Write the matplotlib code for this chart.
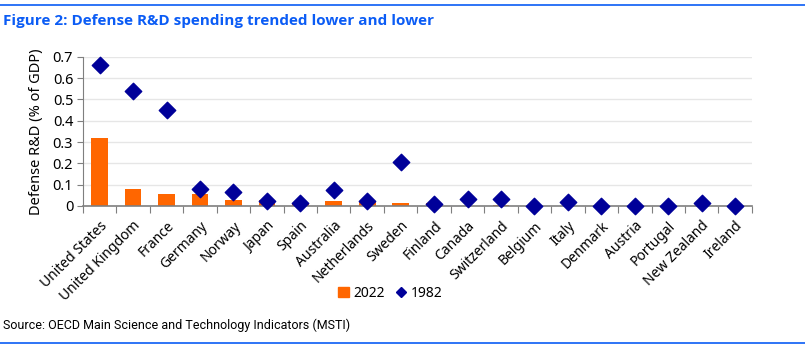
import matplotlib.pyplot as plt
from matplotlib.lines import Line2D
from matplotlib.patches import Patch
import numpy as np

countries = ["United States", "United Kingdom", "France", "Germany", "Norway",
             "Japan", "Spain", "Australia", "Netherlands", "Sweden", "Finland",
             "Canada", "Switzerland", "Belgium", "Italy", "Denmark", "Austria",
             "Portugal", "New Zealand", "Ireland"]
rd_2022 = [0.32, 0.08, 0.058, 0.058, 0.028, 0.028, 0.012, 0.022, 0.018, 0.015,
           0.012, 0.0, 0.004, 0.0, 0.0, 0.0, 0.0, 0.0, 0.0, 0.0]
rd_1982 = [0.66, 0.54, 0.452, 0.08, 0.065, 0.022, 0.012, 0.074, 0.025, 0.205,
           0.007, 0.033, 0.033, 0.0, 0.02, 0.0, 0.0, 0.0, 0.012, 0.0]
yticks = [0, 0.1, 0.2, 0.3, 0.4, 0.5, 0.6, 0.7]

BLUE = "#0b5cf5"
ORANGE = "#ff6600"
NAVY = "#000099"
GRAY = "#7f7f7f"

plt.rcParams['font.family'] = ['Noto Sans', 'DejaVu Sans']


def main():
    fig = plt.figure(figsize=(8.05, 3.49), dpi=100)
    ax = fig.add_axes([0.103, 0.41, 0.831, 0.427])
    x = np.arange(len(countries))

    ax.bar(x, rd_2022, width=0.5, color=ORANGE, zorder=2)
    ax.scatter(x, rd_1982, marker="D", s=70, color=NAVY, zorder=3, clip_on=False)

    ax.set_xlim(-0.5, len(countries) - 0.5)
    ax.set_ylim(0, 0.7)
    ax.set_yticks(yticks)
    ax.set_yticklabels(["0" if v == 0 else f"{v:.1f}" for v in yticks])
    ax.yaxis.grid(True, color="#e6e6e6", lw=1, zorder=0)
    ax.set_axisbelow(True)

    # tick marks at category boundaries, labels at centres
    ax.set_xticks(np.arange(len(countries) + 1) - 0.5)
    ax.set_xticklabels([])
    ax.set_xticks(x, minor=True)
    ax.set_xticklabels(countries, minor=True, rotation=45, ha="right",
                       rotation_mode="anchor", fontsize=10)
    ax.tick_params(axis="x", which="minor", length=0, pad=9)
    ax.tick_params(axis="x", which="major", length=5, color=GRAY, direction="out")
    ax.tick_params(axis="y", length=4, color=GRAY, labelsize=10.5, pad=3)

    for s in ["top", "right"]:
        ax.spines[s].set_visible(False)
    ax.spines["left"].set_color(GRAY)
    ax.spines["bottom"].set_color(GRAY)
    ax.spines["bottom"].set_linewidth(1.2)

    ax.set_ylabel("Defense R&D (% of GDP)", fontsize=10.5, labelpad=6)

    handles = [Patch(color=ORANGE, label="2022"),
               Line2D([], [], marker="D", ls="", color=NAVY, markersize=5, label="1982")]
    fig.legend(handles=handles, loc="center", bbox_to_anchor=(0.485, 0.16),
               ncol=2, frameon=False, fontsize=10, handlelength=0.8,
               handletextpad=0.3, columnspacing=0.8)

    fig.text(0.004, 0.94, "Figure 2: Defense R&D spending trended lower and lower",
             color=BLUE, fontsize=11, fontweight="bold", va="center",
             family=["Open Sans", "DejaVu Sans"])
    fig.text(0.004, 0.068, "Source: OECD Main Science and Technology Indicators (MSTI)",
             fontsize=9, va="center", family=["Roboto", "DejaVu Sans"])
    fig.add_artist(Line2D([0, 1], [0.985, 0.985], color=BLUE, lw=1.2,
                          transform=fig.transFigure))
    fig.add_artist(Line2D([0, 1], [0.017, 0.017], color=BLUE, lw=1.2,
                          transform=fig.transFigure))

    fig.savefig("out.png", dpi=100)


if __name__ == "__main__":
    main()
